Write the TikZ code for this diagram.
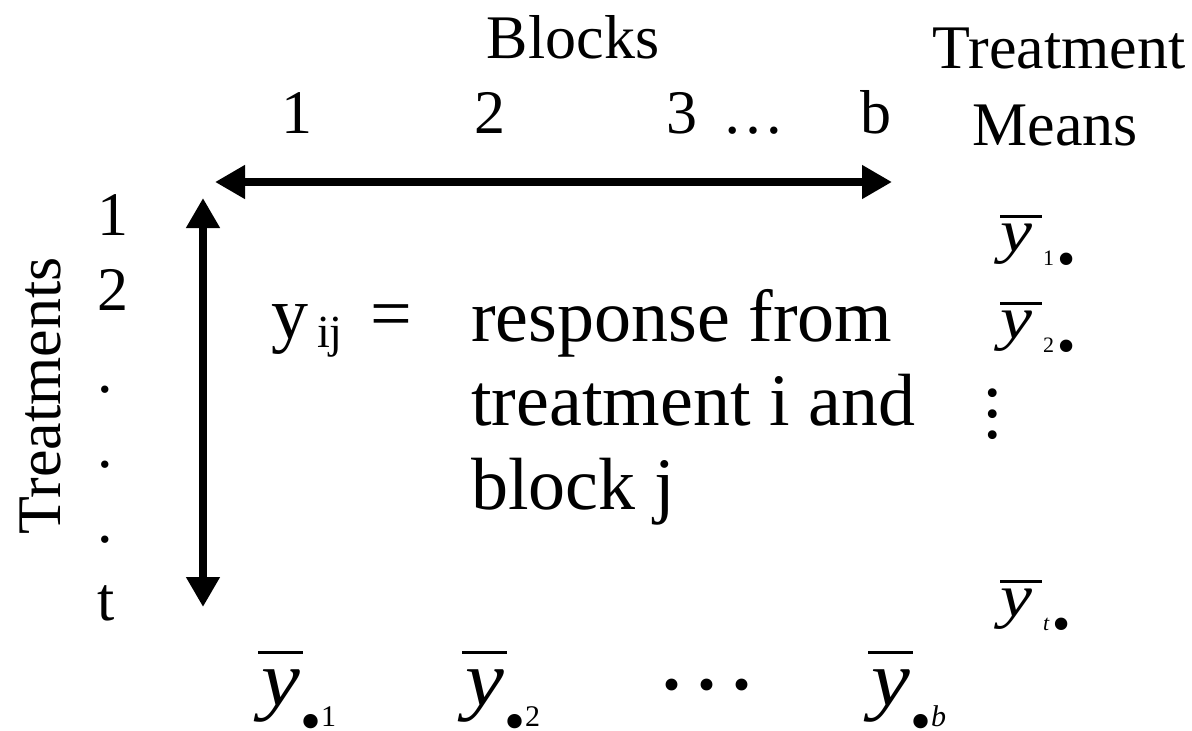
\documentclass[tikz,border=0pt]{standalone}
\usepackage{fontspec}
\usepackage{graphicx}
\setmainfont{Liberation Serif}
\usetikzlibrary{arrows.meta}

\newcommand{\sz}[1]{\fontsize{#1}{#1}\selectfont}
% y with a bar: #1 raise of the bar, #2 its length, #3 its shift, #4 widening of the y
\newcommand{\ybar}[4]{\rlap{\kern#3\rule[#1]{#2}{0.045em}}\scalebox{#4}[1]{\textit{y}}}
\newcommand{\rowmean}[1]{{\sz{60}\ybar{0.55em}{0.7em}{0em}{1.2}}\kern11pt\raisebox{-14pt}{\sz{22}#1}\kern3pt\raisebox{-25pt}{\sz{52}\textbullet}}
\newcommand{\colmean}[1]{{\sz{78}\ybar{0.65em}{0.58em}{-0.04em}{1.12}}\raisebox{-36pt}{\sz{60}\textbullet}\raisebox{-21pt}{\sz{30}#1}}

\begin{document}
\begin{tikzpicture}[x=1pt, y=-1pt,
  lbl/.style={font=\sz{62}, inner sep=0pt},
  body/.style={font=\sz{74}, inner sep=0pt},
  dblarrow/.style={line width=8pt, {Triangle[length=30pt,width=32pt]}-{Triangle[length=30pt,width=32pt]}}]
\useasboundingbox (0,0) rectangle (1192,731);

% --- Blocks along the top ---
\node[lbl, anchor=base] (blocks) at (573,58) {Blocks};
\node[lbl, anchor=base] (blk1) at (297,133) {1};
\node[lbl, anchor=base] (blk2) at (490,133) {2};
\node[lbl, anchor=base west] (blk3) at (666,133) {3 \hspace{10pt}…};
\node[lbl, anchor=base] (blkb) at (876,133) {b};

% --- Treatment means header ---
\node[lbl, anchor=base] (tmhead) at (1059,68) {Treatment};
\node[lbl, anchor=base] (means) at (1055,145) {Means};

% Arrows
\coordinate (hleft) at (215,182);
\coordinate (hright) at (892,182);
\draw[dblarrow] (hleft) -- (hright);
\coordinate (vtop) at (203,198);
\coordinate (vbot) at (203,607);
\draw[dblarrow] (vtop) -- (vbot);

% --- Treatments down the side ---
\node[lbl, rotate=90, anchor=base] (treats) at (60,396) {Treatments};
\foreach \lab/\yy [count=\i] in {1/235, 2/310, ./392, ./467, ./542, t/620} {
  \node[lbl, anchor=base west] (trt\i) at (97,\yy) {\lab};
}

% Response
\node[body, anchor=base west] (yij) at (271,338) {y\kern9pt\raisebox{-9pt}{\sz{46}ij}\hspace{28pt}=};
\foreach \txt [count=\i] in {response from, treatment i and, block j} {
  \node[body, anchor=base west] (resp\i) at (471,{341+84*(\i-1)}) {\txt};
}

% Row means
\node[inner sep=0pt, anchor=base west] (ybar1) at (1000,251) {\rowmean{1}};
\node[inner sep=0pt, anchor=base west] (ybar2) at (1000,338) {\rowmean{2}};
\node[inner sep=0pt] (vdots) at (993,414) {\sz{74}\vbox{\baselineskip=21pt\hbox{.}\hbox{.}\hbox{.}}};
\node[inner sep=0pt, anchor=base west] (ybart) at (1000,616) {\rowmean{\textit{t}}};

% Column means
\node[inner sep=0pt, anchor=base west] (ycol1) at (261,705) {\colmean{1}};
\node[inner sep=0pt, anchor=base west] (ycol2) at (465,705) {\colmean{2}};
\node[inner sep=0pt] (hdots) at (707,685) {\sz{100}.\kern10pt.\kern10pt.};
\node[inner sep=0pt, anchor=base west] (ycolb) at (871,705) {\colmean{\textit{b}}};
\end{tikzpicture}
\end{document}
